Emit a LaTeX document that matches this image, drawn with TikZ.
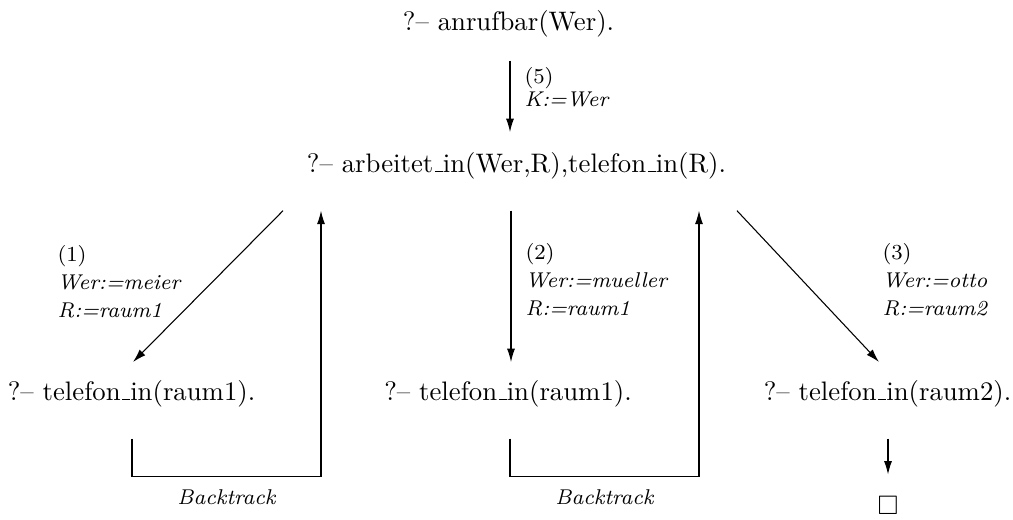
\documentclass[tikz,border=0pt]{standalone}
\usepackage{amssymb}
\usetikzlibrary{arrows.meta}
% underscore drawn as a short rule on the baseline
\newcommand\usc{\leavevmode\kern.06em\vbox{\hrule width.3em}}
\begin{document}
\begin{tikzpicture}[x=0.374pt, y=-0.374pt,
  term/.style={inner sep=0, anchor=base, text height=7.5pt, text depth=2.5pt},
  subst/.style={inner sep=0, anchor=north west, align=left, font=\footnotesize},
  btlabel/.style={inner sep=0, anchor=north, yshift=-4.5pt, font=\footnotesize\itshape},
  arr/.style={-{Latex[length=5pt,width=3pt]}, line width=0.4pt},
]
\useasboundingbox (0,0) rectangle (1013,520);

% goals of the resolution tree
\node[term] (top) at (508.5,30)  {?-- anrufbar(Wer).};
\node[term] (mid) at (516.5,172) {?-- arbeitet\usc in(Wer,R),telefon\usc in(R).};
\node[term] (L)   at (131.5,400) {?-- telefon\usc in(raum1).};
\node[term] (M)   at (508,400)   {?-- telefon\usc in(raum1).};
\node[term] (R)   at (887.5,400) {?-- telefon\usc in(raum2).};
\node[inner sep=0] (done) at (888,505.5) {$\square$};

% substitutions
\node[subst] (s5) at (524,67)  {(5)\\[-0.8pt]\textit{K:=Wer}};
\node[subst] (s1) at (57,245)  {(1)\\[1pt]\textit{Wer:=meier}\\[1pt]\textit{R:=raum1}};
\node[subst] (s2) at (525,243) {(2)\\[1pt]\textit{Wer:=mueller}\\[1pt]\textit{R:=raum1}};
\node[subst] (s3) at (882,243) {(3)\\[1pt]\textit{Wer:=otto}\\[1pt]\textit{R:=raum2}};

% resolution steps
\draw[arr] ([shift={(1.5,23.5)}]top.south) -- ([shift={(-6.5,-19.4)}]mid.north);
\draw[arr] ([shift={(-233.5,31.5)}]mid.south) -- ([shift={(1.5,-17.4)}]L.north);
\draw[arr] ([shift={(-5.5,31.5)}]mid.south) -- ([shift={(3,-17.4)}]M.north);
\draw[arr] ([shift={(220.5,31.5)}]mid.south) -- ([shift={(-8.5,-17.4)}]R.north);
\draw[arr] ([shift={(0.5,31.5)}]R.south) -- ([shift={(0,-21.5)}]done.north);

% backtracking
\draw[arr] ([shift={(0.5,31.5)}]L.south) -- ++(0,38)
  -| node[btlabel, pos=0.25] (bt1) {Backtrack} ([shift={(-195.5,31.5)}]mid.south);
\draw[arr] ([shift={(2,31.5)}]M.south) -- ++(0,38)
  -| node[btlabel, pos=0.25] (bt2) {Backtrack} ([shift={(182.5,31.5)}]mid.south);
\end{tikzpicture}
\end{document}
